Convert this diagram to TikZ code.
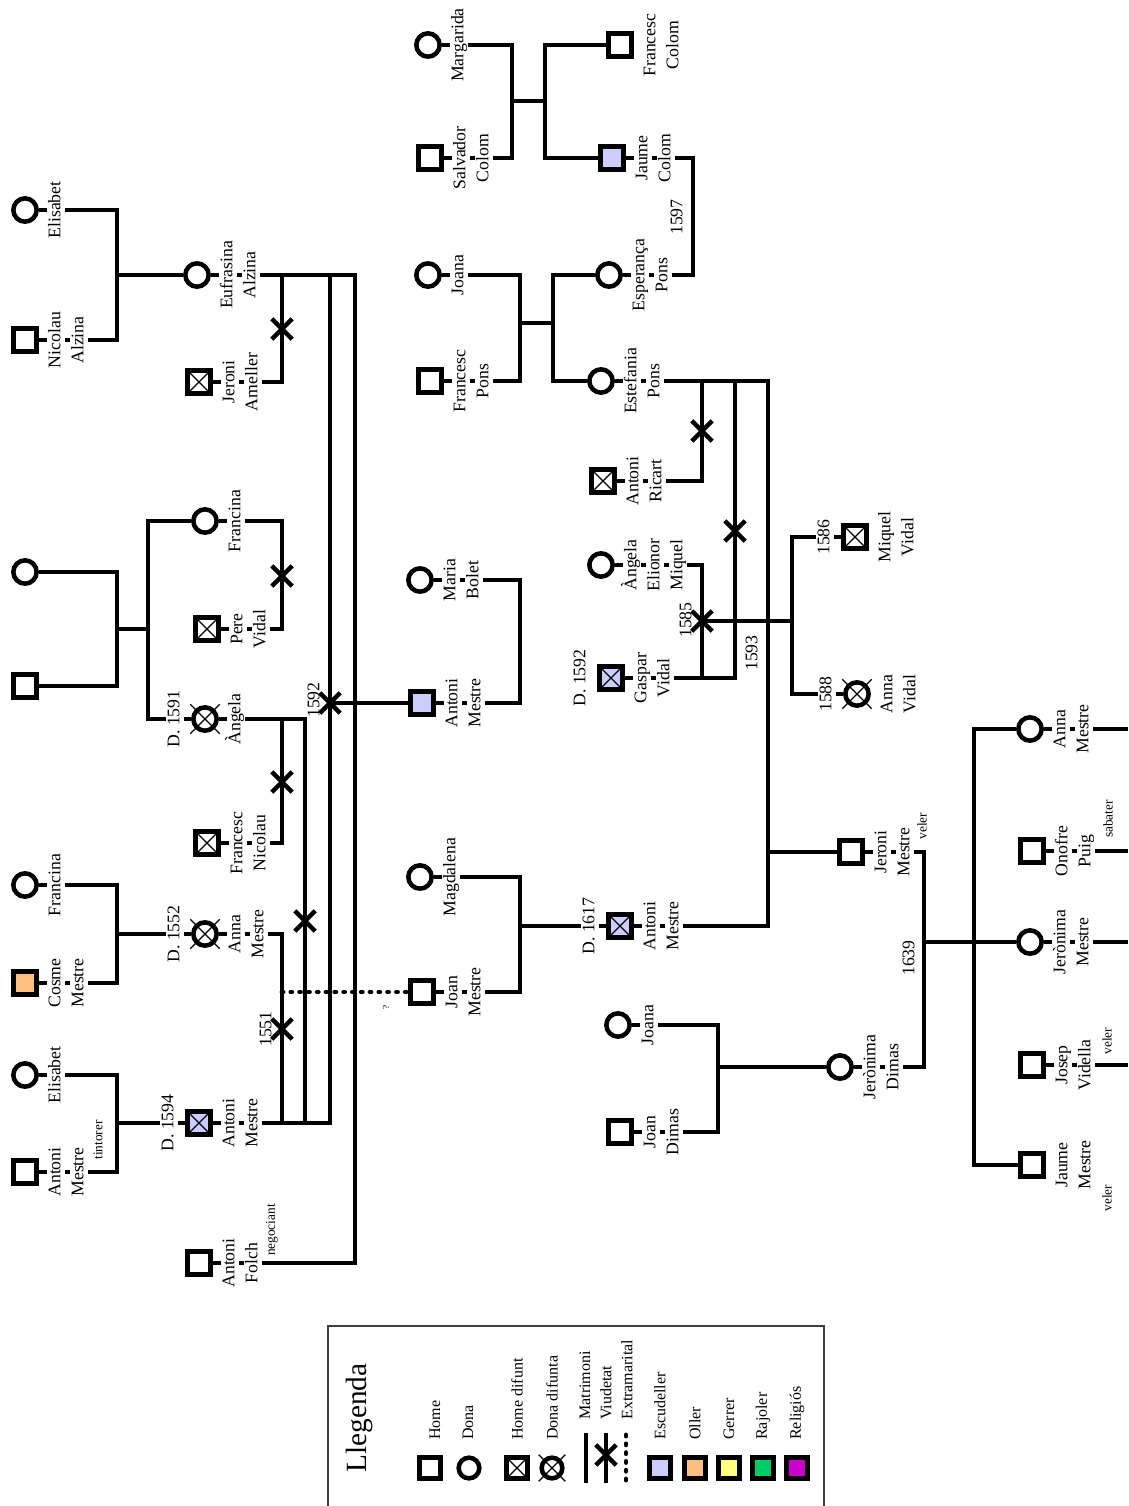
\documentclass[tikz,border=0pt]{standalone}
\usepackage{fontspec}
\setmainfont{Liberation Serif}
\usetikzlibrary{shapes.misc}
\definecolor{escudeller}{RGB}{204,204,255}
\definecolor{oller}{RGB}{255,191,128}
\definecolor{gerrer}{RGB}{255,255,128}
\definecolor{rajoler}{RGB}{0,204,102}
\definecolor{religios}{RGB}{204,0,204}
\pgfdeclarelayer{bg}
\pgfsetlayers{bg,main}

\begin{document}
\begin{tikzpicture}[
    x=0.75pt, y=-0.75pt,
    man/.style={draw, rectangle, line width=3.4pt, minimum size=17.5pt, inner sep=0pt, fill=white},
    woman/.style={draw, circle, line width=3.4pt, minimum size=17.5pt, inner sep=0pt, fill=white},
    dead/.style={path picture={\draw[line width=1pt] (path picture bounding box.south west) -- (path picture bounding box.north east) (path picture bounding box.north west) -- (path picture bounding box.south east);}},
    nm/.style={rotate=90, fill=white, inner sep=1pt, text height=9.3pt, text depth=2.7pt, font=\fontsize{13.3pt}{16pt}\selectfont},
    yr/.style={nm, fill=none},
    trade/.style={rotate=90, inner sep=0pt, font=\fontsize{10pt}{12pt}\selectfont},
    link/.style={line width=3.3pt},
    extra/.style={line width=3.6pt, line cap=round, dash pattern=on 0.8pt off 5.8pt},
    widow/.style={draw, cross out, line width=3.3pt, minimum size=12pt, inner sep=0pt},
    lgsym/.style={minimum size=15.5pt},
    lgd/.style={rotate=90, anchor=west, inner sep=0pt, font=\fontsize{12pt}{14pt}\selectfont}
]
\useasboundingbox (0,0) rectangle (1128,1506);

% generation I
\node[woman] (elisabetA) at (25,210) {};
\node[man] (nalzina) at (25,340) {};
\node[woman] (donaA) at (25,572) {};
\node[man] (homeA) at (25,686) {};
\node[woman] (francinaA) at (25,885) {};
\node[man, fill=oller] (cosme) at (25,983) {};
\node[woman] (elisabetB) at (25,1075) {};
\node[man] (antoniT) at (25,1172) {};
% generation II
\node[woman] (eufrasina) at (197,275) {};
\node[man, dead] (ameller) at (199,382) {};
\node[woman] (francinaB) at (205,521) {};
\node[man, dead] (pere) at (207,629) {};
\node[woman] (angela) at (205,719) {};
\node[man, dead] (fnicolau) at (207,843) {};
\node[woman] (annaM) at (205,934) {};
\node[man, dead, fill=escudeller] (antoniD) at (199,1123) {};
\node[man] (folch) at (199,1263) {};
% generation III
\node[woman] (margarida) at (428,45) {};
\node[man] (salvador) at (430,158) {};
\node[woman] (joanaA) at (428,275) {};
\node[man] (fpons) at (430,381) {};
\node[woman] (bolet) at (420,580) {};
\node[man, fill=escudeller] (antoniE) at (422,703) {};
\node[woman] (magdalena) at (420,877) {};
\node[man] (joanM) at (422,992) {};
% generation IV
\node[man] (fcolom) at (620,45) {};
\node[man, fill=escudeller] (jaume) at (612,158) {};
\node[woman] (esperanca) at (609,275) {};
\node[woman] (estefania) at (601,381) {};
\node[man, dead] (ricart) at (603,481) {};
\node[woman] (angelaEM) at (601,565) {};
\node[man, dead, fill=escudeller] (gaspar) at (611,678) {};
\node[man, dead, fill=escudeller] (antoniX) at (620,926) {};
\node[woman] (joanaB) at (618,1025) {};
\node[man] (jdimas) at (620,1132) {};
% generation V
\node[man, dead] (miquel) at (855,537) {};
\node[woman] (annaV) at (857,694) {};
\node[man] (jeroni) at (851,852) {};
\node[woman] (jeronimaD) at (840,1067) {};
% generation VI
\node[woman] (annaF) at (1030,729) {};
\node[man] (onofre) at (1032,851) {};
\node[woman] (jeronimaM) at (1030,942) {};
\node[man] (josep) at (1032,1065) {};
\node[man] (jaumeM) at (1032,1165) {};

% crossed circles
\foreach \p in {angela,annaM,annaV}
  \draw[line width=1pt] (\p.center) +(-11pt,-11pt) -- +(11pt,11pt) +(-11pt,11pt) -- +(11pt,-11pt);

% names
\foreach \p/\a in {elisabetA/Elisabet, francinaA/Francina, elisabetB/Elisabet, francinaB/Francina, angela/Àngela, margarida/Margarida, joanaA/Joana, magdalena/Magdalena, joanaB/Joana}
  \node[nm] (\p-1) at ([xshift=23.25pt]\p.center) {\a};
\foreach \p/\a/\b in {nalzina/Nicolau/Alzina, cosme/Cosme/Mestre, antoniT/Antoni/Mestre,
    eufrasina/Eufrasina/Alzina, ameller/Jeroni/Ameller, pere/Pere/Vidal, fnicolau/Francesc/Nicolau,
    annaM/Anna/Mestre, antoniD/Antoni/Mestre, folch/Antoni/Folch,
    salvador/Salvador/Colom, fpons/Francesc/Pons, bolet/Maria/Bolet, antoniE/Antoni/Mestre, joanM/Joan/Mestre,
    fcolom/Francesc/Colom, jaume/Jaume/Colom, esperanca/Esperança/Pons, estefania/Estefania/Pons,
    ricart/Antoni/Ricart, gaspar/Gaspar/Vidal, antoniX/Antoni/Mestre, jdimas/Joan/Dimas,
    miquel/Miquel/Vidal, annaV/Anna/Vidal, jeroni/Jeroni/Mestre, jeronimaD/Jerònima/Dimas,
    annaF/Anna/Mestre, onofre/Onofre/Puig, jeronimaM/Jerònima/Mestre, josep/Josep/Vidella, jaumeM/Jaume/Mestre}
{
  \node[nm] (\p-1) at ([xshift=23.25pt]\p.center) {\a};
  \node[nm] (\p-2) at ([xshift=40.5pt]\p.center) {\b};
}
\node[nm] (angelaEM-1) at ([xshift=23.25pt]angelaEM.center) {Àngela};
\node[nm] (angelaEM-2) at ([xshift=40.5pt]angelaEM.center) {Elionor};
\node[nm] (angelaEM-3) at ([xshift=57.75pt]angelaEM.center) {Miquel};

% deaths and births
\foreach \p/\d in {angela/D. 1591, annaM/D. 1552, antoniD/D. 1594, gaspar/D. 1592, antoniX/D. 1617, miquel/1586, annaV/1588}
  \node[nm] (\p-d) at ([xshift=-22.5pt]\p.center) {\d};

% marriage years
\node[yr] (y1597) at (678,217) {1597};
\node[yr] (y1592) at (315,700) {1592};
\node[yr] (y1551) at (267,1029) {1551};
\node[yr] (y1585) at (687,620) {1585};
\node[yr] (y1593) at (753,653) {1593};
\node[yr] (y1639) at (910,958) {1639};

% trades
\node[trade] (tr1) at (98,1140) {tintorer};
\node[trade] (tr2) at (272,1230) {negociant};
\node[trade] (tr3) at (922,826) {veler};
\node[trade] (tr4) at (1108,819) {sabater};
\node[trade] (tr5) at (1107,1041) {veler};
\node[trade] (tr6) at (1107,1198) {veler};
\node[trade, font=\fontsize{7pt}{8pt}\selectfont] (qm) at (386,1007) {?};

% widowhood marks
\node[widow] (w1) at (282,329) {};
\node[widow] (w2) at (282,576) {};
\node[widow] (w3) at (282,782) {};
\node[widow] (w4) at (305,921) {};
\node[widow] (w5) at (330,703) {};
\node[widow] (w6) at (282,1029) {};
\node[widow] (w7) at (702,431) {};
\node[widow] (w8) at (735,531) {};
\node[widow] (w9) at (702,621) {};

% junctions
\coordinate (u1) at (117,275);
\coordinate (u2) at (117,629);
\coordinate (s2) at (148,629);
\coordinate (u3) at (117,934);
\coordinate (u4) at (117,1123);
\coordinate (b1) at (355,703);
\coordinate (q1) at (282,992);
\coordinate (u5) at (512,101);
\coordinate (s5) at (545,101);
\coordinate (u6) at (520,323);
\coordinate (s6) at (553,323);
\coordinate (u7) at (520,641);
\coordinate (u8) at (520,926);
\coordinate (u9) at (693,216);
\coordinate (u11) at (768,852);
\coordinate (s10) at (792,621);
\coordinate (u12) at (718,1067);
\coordinate (u13) at (924,942);
\coordinate (s13) at (974,942);
\coordinate (r1) at (1128,729);
\coordinate (r2) at (1128,851);
\coordinate (r3) at (1128,942);
\coordinate (r4) at (1128,1065);

\begin{pgfonlayer}{bg}
% generation I
\draw[link] (elisabetA) -| (u1) |- (nalzina);
\draw[link] (u1) -- (eufrasina);
\draw[link] (donaA) -| (u2) |- (homeA);
\draw[link] (u2) -- (s2);
\draw[link] (francinaB) -| (s2) |- (angela);
\draw[link] (francinaA) -| (u3) |- (cosme);
\draw[link] (u3) -- (annaM);
\draw[link] (elisabetB) -| (u4) |- (antoniT);
\draw[link] (u4) -- (antoniD);
% generation II
\draw[link] (eufrasina) -| (w1.center) |- (ameller);
\draw[link] (eufrasina) -| (w5.center) |- (antoniD);
\draw[link] (eufrasina) -| (b1) |- (folch);
\draw[link] (francinaB) -| (w2.center) |- (pere);
\draw[link] (angela) -| (w3.center) |- (fnicolau);
\draw[link] (angela) -| (w4.center) |- (antoniD);
\draw[link] (annaM) -| (w6.center) |- (antoniD);
\draw[link] (w5.center) -- (antoniE);
\draw[extra] (q1) -- (joanM);
% generation III
\draw[link] (margarida) -| (u5) |- (salvador);
\draw[link] (u5) -- (s5);
\draw[link] (fcolom) -| (s5) |- (jaume);
\draw[link] (joanaA) -| (u6) |- (fpons);
\draw[link] (u6) -- (s6);
\draw[link] (esperanca) -| (s6) |- (estefania);
\draw[link] (bolet) -| (u7) |- (antoniE);
\draw[link] (magdalena) -| (u8) |- (joanM);
\draw[link] (u8) -- (antoniX);
% generation IV
\draw[link] (jaume) -| (u9) |- (esperanca);
\draw[link] (estefania) -| (w7.center) |- (ricart);
\draw[link] (estefania) -| (w8.center) |- (gaspar);
\draw[link] (estefania) -| (u11) |- (antoniX);
\draw[link] (angelaEM) -| (w9.center) |- (gaspar);
\draw[link] (w9.center) -- (s10);
\draw[link] (miquel) -| (s10) |- (annaV);
\draw[link] (u11) -- (jeroni);
\draw[link] (joanaB) -| (u12) |- (jdimas);
\draw[link] (u12) -- (jeronimaD);
% generation V
\draw[link] (jeroni) -| (u13) |- (jeronimaD);
\draw[link] (u13) -- (jeronimaM);
\draw[link] (annaF) -| (s13) |- (jaumeM);
\draw[link] (annaF) -- (r1);
\draw[link] (onofre) -- (r2);
\draw[link] (jeronimaM) -- (r3);
\draw[link] (josep) -- (r4);
\end{pgfonlayer}

% legend
\draw[line width=0.8pt, black!75] (328,1506) |- (824,1326) -- (824,1506);
\node[rotate=90, font=\fontsize{22pt}{26pt}\selectfont] (lgT) at (359,1418) {Llegenda};
\node[man, lgsym] (lgH) at (430,1468) {};
\node[woman, lgsym] (lgD) at (469,1468) {};
\node[man, lgsym, dead] (lgHD) at (517,1468) {};
\node[woman, lgsym] (lgDD) at (552,1468) {};
\draw[line width=1pt] (lgDD.center) +(-10pt,-10pt) -- +(10pt,10pt) +(-10pt,10pt) -- +(10pt,-10pt);
\coordinate (lgM1) at (586,1433);
\coordinate (lgM2) at (586,1483);
\coordinate (lgV1) at (606,1433);
\coordinate (lgV2) at (606,1483);
\coordinate (lgE1) at (626,1435);
\coordinate (lgE2) at (626,1483);
\draw[link] (lgM1) -- (lgM2);
\draw[link] (lgV1) -- (lgV2);
\node[widow] (lgW) at (606,1455) {};
\draw[extra] (lgE1) -- (lgE2);
\foreach \c/\x [count=\i] in {escudeller/660, oller/695, gerrer/729, rajoler/763, religios/797}
  \node[man, lgsym, fill=\c] (lgC\i) at (\x,1468) {};
\node[lgd] (lgH-t) at (435,1440) {Home};
\node[lgd] (lgD-t) at (468,1440) {Dona};
\node[lgd] (lgHD-t) at (517,1440) {Home difunt};
\node[lgd] (lgDD-t) at (552,1440) {Dona difunta};
\node[lgd] (lgM-t) at (585,1420) {Matrimoni};
\node[lgd] (lgV-t) at (606,1420) {Viudetat};
\node[lgd] (lgE-t) at (627,1420) {Extramarital};
\node[lgd] (lgC1-t) at (660,1440) {Escudeller};
\node[lgd] (lgC2-t) at (695,1440) {Oller};
\node[lgd] (lgC3-t) at (729,1440) {Gerrer};
\node[lgd] (lgC4-t) at (763,1440) {Rajoler};
\node[lgd] (lgC5-t) at (797,1440) {Religiós};
\end{tikzpicture}
\end{document}
